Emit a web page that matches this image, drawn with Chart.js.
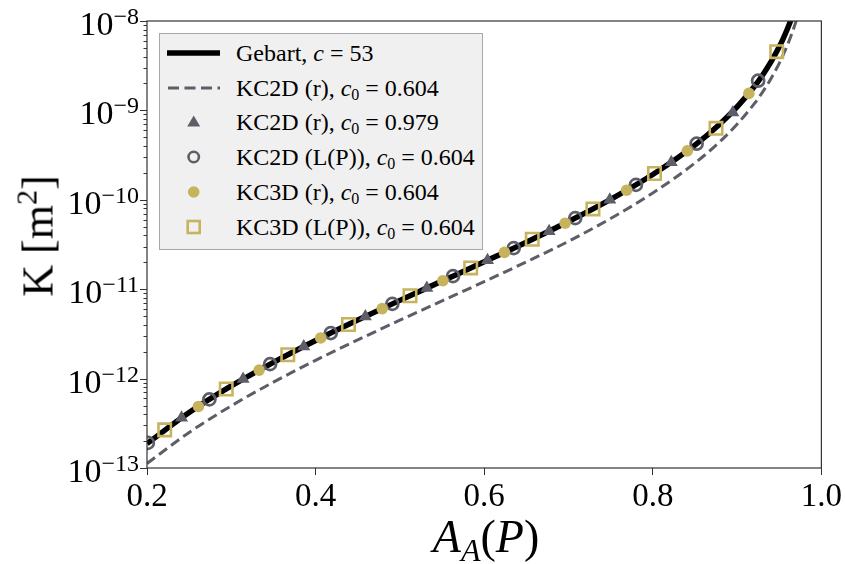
<!DOCTYPE html>
<html lang="en">
<head>
<meta charset="UTF-8">
<title>Permeability K vs A_A(P)</title>
<script src="https://cdn.jsdelivr.net/npm/chart.js"></script>
<style>
  body { margin: 0; background: #fff; }
  .wrap { position: relative; width: 845px; height: 564px; font-family: 'Liberation Serif', serif; color: #000; }
  #chart { position: absolute; left: 0; top: 0; }
  .legend { position: absolute; left: 159px; top: 33px; width: 324px; height: 217px; box-sizing: border-box;
            background: #f0f0f0; border: 1px solid #a8a8a8; }
  .row { position: absolute; left: 0; height: 34px; width: 100%; display: flex; align-items: center; }
  .row svg { position: absolute; left: 6px; top: 7px; }
  .row span { position: absolute; left: 76px; font-size: 24px; white-space: nowrap; line-height: 34px; }
  .row sub { font-size: 16px; vertical-align: -4px; line-height: 0; }
  .ytitle { position: absolute; left: 38px; top: 236px; transform: translate(-50%, -50%) rotate(-90deg);
            font-size: 44px; white-space: nowrap; }
  .ytitle sup { font-size: 30px; vertical-align: 16px; line-height: 0; }
  .xtitle { position: absolute; left: 486px; top: 536px; transform: translate(-50%, -50%);
            font-size: 46px; white-space: nowrap; }
  .xtitle sub { font-size: 32px; vertical-align: -9px; line-height: 0; }
</style>
</head>
<body>
<div class="wrap">
  <canvas id="chart" width="845" height="564"></canvas>
  <div class="legend">
    <div class="row" style="top:2px">
      <svg width="60" height="20"><line x1="1" y1="10" x2="54" y2="10" stroke="#000" stroke-width="5.5"/></svg>
      <span>Gebart, <i>c</i> = 53</span>
    </div>
    <div class="row" style="top:36.7px">
      <svg width="60" height="20"><line x1="2" y1="10" x2="54" y2="10" stroke="#5e5e68" stroke-width="3" stroke-dasharray="11 5.5"/></svg>
      <span>KC2D (r), <i>c</i><sub>0</sub> = 0.604</span>
    </div>
    <div class="row" style="top:71.4px">
      <svg width="60" height="20"><polygon points="27.7,3.5 34.2,14.5 21.2,14.5" fill="#5e5e68"/></svg>
      <span>KC2D (r), <i>c</i><sub>0</sub> = 0.979</span>
    </div>
    <div class="row" style="top:106.1px">
      <svg width="60" height="20"><circle cx="27.7" cy="10" r="5.2" fill="none" stroke="#5e5e68" stroke-width="2.6"/></svg>
      <span>KC2D (L(P)), <i>c</i><sub>0</sub> = 0.604</span>
    </div>
    <div class="row" style="top:140.8px">
      <svg width="60" height="20"><circle cx="27.7" cy="10" r="5.8" fill="#c7b35e"/></svg>
      <span>KC3D (r), <i>c</i><sub>0</sub> = 0.604</span>
    </div>
    <div class="row" style="top:175.5px">
      <svg width="60" height="20"><rect x="21.7" y="4" width="12" height="12" fill="none" stroke="#c7b35e" stroke-width="2.6"/></svg>
      <span>KC3D (L(P)), <i>c</i><sub>0</sub> = 0.604</span>
    </div>
  </div>
  <div class="ytitle">K [m<sup>2</sup>]</div>
  <div class="xtitle"><i>A</i><sub><i>A</i></sub>(<i>P</i>)</div>
</div>

<script>
// curves
const curveX   = [0.2, 0.25, 0.3, 0.35, 0.4, 0.45, 0.5, 0.55, 0.6, 0.65, 0.7, 0.75, 0.8, 0.85, 0.88, 0.9, 0.92, 0.93, 0.94, 0.95, 0.955, 0.96, 0.965, 0.97, 0.975];
const gebartK  = [1.875e-13, 4.17e-13, 8.27e-13, 1.52e-12, 2.67e-12, 4.52e-12, 7.5e-12, 1.232e-11, 2.025e-11, 3.36e-11, 5.72e-11, 1.0125e-10, 1.92e-10, 4.09e-10, 7.1e-10, 1.094e-9, 1.825e-9, 2.46e-9, 3.46e-9, 5.14e-9, 6.45e-9, 8.29e-9, 1.1e-8, 1.52e-8, 2.22e-8];
const kc2dK    = [1.125e-13, 2.5e-13, 4.96e-13, 9.13e-13, 1.6e-12, 2.71e-12, 4.5e-12, 7.39e-12, 1.215e-11, 2.02e-11, 3.43e-11, 6.18e-11, 1.19e-10, 2.58e-10, 4.5e-10, 7.0e-10, 1.175e-9, 1.59e-9, 2.25e-9, 3.36e-9, 4.23e-9, 5.46e-9, 7.27e-9, 1.0e-8, 1.47e-8];

// markers
const triX  = [0.241, 0.314, 0.386, 0.459, 0.532, 0.604, 0.677, 0.749, 0.822, 0.895];
const triK  = [3.64e-13, 9.87e-13, 2.29e-12, 4.96e-12, 1.031e-11, 2.11e-11, 4.46e-11, 1.0e-10, 2.63e-10, 9.5e-10];
const ringX = [0.201, 0.274, 0.346, 0.418, 0.491, 0.563, 0.635, 0.708, 0.78, 0.852, 0.925];
const ringK = [1.91e-13, 5.85e-13, 1.45e-12, 3.23e-12, 6.85e-12, 1.4e-11, 2.88e-11, 6.24e-11, 1.47e-10, 4.24e-10, 2.15e-9];
const dotX  = [0.261, 0.333, 0.406, 0.479, 0.551, 0.624, 0.696, 0.769, 0.841, 0.914];
const dotK  = [4.88e-13, 1.245e-12, 2.85e-12, 6.07e-12, 1.245e-11, 2.58e-11, 5.47e-11, 1.28e-10, 3.53e-10, 1.55e-9];
const sqX   = [0.221, 0.294, 0.367, 0.439, 0.512, 0.584, 0.657, 0.729, 0.802, 0.875, 0.947];
const sqK   = [2.67e-13, 7.65e-13, 1.85e-12, 4.03e-12, 8.45e-12, 1.73e-11, 3.62e-11, 7.91e-11, 1.97e-10, 6.3e-10, 4.54e-9];

// ticks
const xTicks = [0.2, 0.4, 0.6, 0.8, 1.0];
const yTicks = [1e-13, 1e-12, 1e-11, 1e-10, 1e-9, 1e-8];
const minorSteps = [2, 3, 4, 5, 6, 7, 8, 9];

const gray = '#5e5e68';
const gold = '#c7b35e';
const pts = (xs, ys) => xs.map((x, i) => ({ x: x, y: ys[i] }));

// frame + log ticks with 10^n labels
const axisDecor = {
  id: 'axisDecor',
  afterDraw(chart) {
    const { ctx, chartArea: a } = chart;
    const y = chart.scales.y;
    ctx.save();
    ctx.strokeStyle = '#333';
    ctx.lineWidth = 1.2;
    ctx.strokeRect(a.left, a.top, a.right - a.left, a.bottom - a.top);

    ctx.lineWidth = 1;
    y.ticks.forEach(t => {
      const py = Math.round(y.getPixelForValue(t.value)) + 0.5;
      const len = t.major ? 7 : 3.5;
      ctx.beginPath();
      ctx.moveTo(a.left - len, py);
      ctx.lineTo(a.left, py);
      ctx.stroke();
      if (!t.major) return;
      const e = Math.round(Math.log10(t.value));
      const expTxt = '\u2212' + Math.abs(e);
      ctx.fillStyle = '#000';
      ctx.textBaseline = 'alphabetic';
      ctx.textAlign = 'left';
      ctx.font = '24px "Liberation Serif"';
      const we = ctx.measureText(expTxt).width;
      ctx.font = '34px "Liberation Serif"';
      const wb = ctx.measureText('10').width;
      const right = a.left - 8;
      ctx.fillText('10', right - we - wb, py + 13);
      ctx.font = '24px "Liberation Serif"';
      ctx.fillText(expTxt, right - we, py + 2);
    });
    ctx.restore();
  }
};

new Chart(document.getElementById('chart'), {
  type: 'scatter',
  data: {
    datasets: [
      { label: 'KC3D (L(P)), c0 = 0.604', data: pts(sqX, sqK), pointStyle: 'rect', pointRadius: 8.8,
        pointBorderWidth: 2.6, borderColor: gold, backgroundColor: 'rgba(0,0,0,0)', order: 1, clip: 0 },
      { label: 'KC3D (r), c0 = 0.604', data: pts(dotX, dotK), pointStyle: 'circle', pointRadius: 5.8,
        pointBorderWidth: 0, borderColor: gold, backgroundColor: gold, order: 2, clip: 0 },
      { label: 'KC2D (L(P)), c0 = 0.604', data: pts(ringX, ringK), pointStyle: 'circle', pointRadius: 6,
        pointBorderWidth: 2.7, borderColor: gray, backgroundColor: 'rgba(0,0,0,0)', order: 3, clip: 0 },
      { label: 'KC2D (r), c0 = 0.979', data: pts(triX, triK), pointStyle: 'triangle', pointRadius: 7.5,
        pointBorderWidth: 0, borderColor: gray, backgroundColor: gray, order: 4, clip: 0 },
      { label: 'KC2D (r), c0 = 0.604', data: pts(curveX, kc2dK), showLine: true, pointRadius: 0,
        borderColor: gray, borderWidth: 3, borderDash: [10, 5], cubicInterpolationMode: 'monotone',
        order: 5, clip: 0 },
      { label: 'Gebart, c = 53', data: pts(curveX, gebartK), showLine: true, pointRadius: 0,
        borderColor: '#000', borderWidth: 5.5, cubicInterpolationMode: 'monotone', order: 6, clip: 0 }
    ]
  },
  options: {
    responsive: false,
    animation: false,
    devicePixelRatio: 1,
    layout: { padding: { left: 0, right: 23, top: 21, bottom: 0 } },
    plugins: { legend: { display: false }, tooltip: { enabled: false } },
    scales: {
      x: {
        type: 'linear', min: 0.2, max: 1.0,
        afterBuildTicks: s => { s.ticks = xTicks.map(v => ({ value: v })); },
        afterFit: s => { s.height = 96; },
        border: { display: false },
        grid: { display: true, drawOnChartArea: false, drawTicks: true, tickLength: 7, tickColor: '#333', tickWidth: 1 },
        ticks: { autoSkip: false, maxRotation: 0, padding: 3, color: '#000',
                 font: { family: 'Liberation Serif', size: 33 }, callback: v => v.toFixed(1) }
      },
      y: {
        type: 'logarithmic', min: 1e-13, max: 1e-8,
        afterBuildTicks: s => {
          const t = [];
          yTicks.forEach((v, i) => {
            t.push({ value: v, major: true });
            if (i < yTicks.length - 1) minorSteps.forEach(m => t.push({ value: v * m, major: false }));
          });
          s.ticks = t;
        },
        afterFit: s => { s.width = 147; },
        border: { display: false },
        grid: { display: false },
        ticks: { display: false }
      }
    }
  },
  plugins: [axisDecor]
});
</script>
</body>
</html>
